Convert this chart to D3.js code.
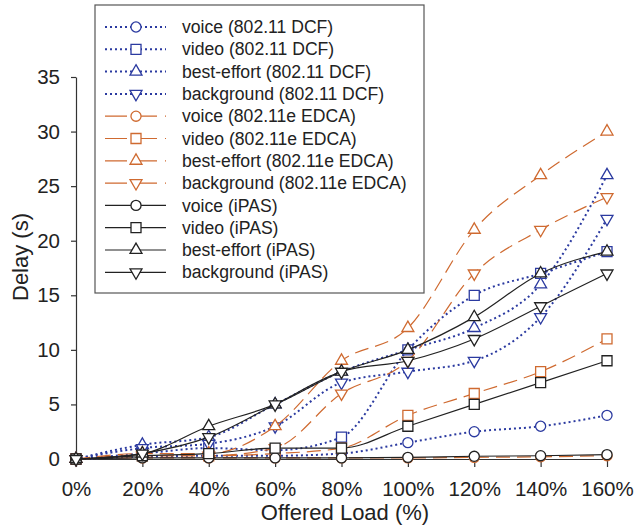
<!DOCTYPE html>
<html>
<head>
<meta charset="utf-8">
<script src="https://cdn.jsdelivr.net/npm/d3@7"></script>
<style>
  body { margin: 0; background: #fff; }
  svg { display: block; font-family: "Liberation Sans", Arial, sans-serif; }
  .axis text { font-size: 20.5px; fill: #222; }
  .axis path, .axis line { stroke: #333; stroke-width: 1.2; }
</style>
</head>
<body>
<div id="chart"></div>
<script>
// offered load (x) and tick values
var loads = [0, 20, 40, 60, 80, 100, 120, 140, 160];
var yTicks = [0, 5, 10, 15, 20, 25, 30, 35];

// delay (s) per series
var dcfVoice  = [0, 0.2, 0.3, 0.3, 0.5, 1.5, 2.5, 3, 4];
var dcfVideo  = [0, 0.5, 1.0, 0.8, 2, 10, 15, 17, 19];
var dcfBest   = [0, 1.3, 2, 5, 8, 10, 12, 16, 26];
var dcfBack   = [0, 1.0, 1.4, 3, 7, 8, 9, 13, 22];
var edcaVoice = [0, 0.1, 0.1, 0.1, 0.1, 0.1, 0.15, 0.2, 0.3];
var edcaVideo = [0, 0.3, 0.3, 0.5, 1, 4, 6, 8, 11];
var edcaBest  = [0, 0.5, 0.5, 3, 9, 12, 21, 26, 30];
var edcaBack  = [0, 0.3, 0.3, 1, 6, 9, 17, 21, 24];
var ipasVoice = [0, 0.1, 0.1, 0.1, 0.1, 0.15, 0.25, 0.3, 0.4];
var ipasVideo = [0, 0.3, 0.5, 1, 1, 3, 5, 7, 9];
var ipasBest  = [0, 0.5, 3, 5, 8, 10, 13, 17, 19];
var ipasBack  = [0, 0.5, 2, 5, 8, 9, 11, 14, 17];

var seriesNames = [
  "voice (802.11 DCF)", "video (802.11 DCF)", "best-effort (802.11 DCF)", "background (802.11 DCF)",
  "voice (802.11e EDCA)", "video (802.11e EDCA)", "best-effort (802.11e EDCA)", "background (802.11e EDCA)",
  "voice (iPAS)", "video (iPAS)", "best-effort (iPAS)", "background (iPAS)"
];
var seriesValues = [dcfVoice, dcfVideo, dcfBest, dcfBack,
                    edcaVoice, edcaVideo, edcaBest, edcaBack,
                    ipasVoice, ipasVideo, ipasBest, ipasBack];

var styles = {
  dcf:  {color: "#2b3aa0", dash: "2,3", width: 2},
  edca: {color: "#cf6a30", dash: "14,7", width: 1.2},
  ipas: {color: "#222", dash: null, width: 1.2}
};
var groups = ["dcf", "dcf", "dcf", "dcf", "edca", "edca", "edca", "edca", "ipas", "ipas", "ipas", "ipas"];
var shapes = ["circle", "square", "up", "down", "circle", "square", "up", "down", "circle", "square", "up", "down"];

var svg = d3.select("#chart").append("svg")
    .attr("width", 634)
    .attr("height", 527);

var x = d3.scaleLinear().domain([0, 160]).range([76, 607]);
var y = d3.scaleLinear().domain([0, 35]).range([459, 77]);

// axes
svg.append("g")
    .attr("class", "axis")
    .attr("transform", "translate(76,0)")
    .call(d3.axisLeft(y).tickValues(yTicks).tickSize(5).tickSizeOuter(0).tickPadding(11));

svg.append("g")
    .attr("class", "axis")
    .attr("transform", "translate(0,459)")
    .call(d3.axisBottom(x).tickValues(loads).tickSize(8).tickSizeOuter(0).tickPadding(14)
      .tickFormat(function(d){ return d + "%"; }));

svg.append("text")
    .attr("x", 345)
    .attr("y", 519.5)
    .attr("text-anchor", "middle")
    .style("font-size", "22px")
    .style("fill", "#222")
    .text("Offered Load (%)");

svg.append("text")
    .attr("transform", "translate(28,257) rotate(-90)")
    .attr("text-anchor", "middle")
    .style("font-size", "22px")
    .style("fill", "#222")
    .text("Delay (s)");

function symbolPath(shape) {
  if (shape == "circle") return d3.symbol().type(d3.symbolCircle).size(80)();
  if (shape == "square") return d3.symbol().type(d3.symbolSquare).size(100)();
  return d3.symbol().type(d3.symbolTriangle).size(62)();
}

var line = d3.line()
    .x(function(d, i){ return x(loads[i]); })
    .y(function(d){ return y(d); })
    .curve(d3.curveMonotoneX);

seriesValues.forEach(function(vals, k){
  var st = styles[groups[k]];
  svg.append("path")
      .datum(vals)
      .attr("d", line)
      .attr("fill", "none")
      .attr("stroke", st.color)
      .attr("stroke-width", st.width)
      .attr("stroke-dasharray", st.dash);

  svg.selectAll(".m" + k)
      .data(vals)
      .enter()
      .append("path")
      .attr("class", "m" + k)
      .attr("d", symbolPath(shapes[k]))
      .attr("transform", function(d, i){
        return "translate(" + x(loads[i]) + "," + y(d) + ")" + (shapes[k] == "down" ? " rotate(180)" : "");
      })
      .attr("fill", "#fff")
      .attr("stroke", st.color)
      .attr("stroke-width", 1.3);
});

// legend
var legend = svg.append("g");
legend.append("rect")
    .attr("x", 95).attr("y", 5)
    .attr("width", 329).attr("height", 288)
    .attr("fill", "#fff")
    .attr("stroke", "#555")
    .attr("stroke-width", 1.2);

seriesNames.forEach(function(name, k){
  var st = styles[groups[k]];
  var cy = 27 + k * 22.3;
  legend.append("line")
      .attr("x1", 105).attr("x2", 166)
      .attr("y1", cy).attr("y2", cy)
      .attr("stroke", st.color)
      .attr("stroke-width", st.width)
      .attr("stroke-dasharray", groups[k] == "edca" ? "22,8" : st.dash);
  legend.append("path")
      .attr("d", symbolPath(shapes[k]))
      .attr("transform", "translate(136," + cy + ")" + (shapes[k] == "down" ? " rotate(180)" : ""))
      .attr("fill", "#fff")
      .attr("stroke", st.color)
      .attr("stroke-width", 1.3);
  legend.append("text")
      .attr("x", 182)
      .attr("y", cy)
      .attr("dy", "0.35em")
      .style("font-size", "17.6px")
      .style("fill", "#222")
      .text(name);
});
</script>
</body>
</html>
